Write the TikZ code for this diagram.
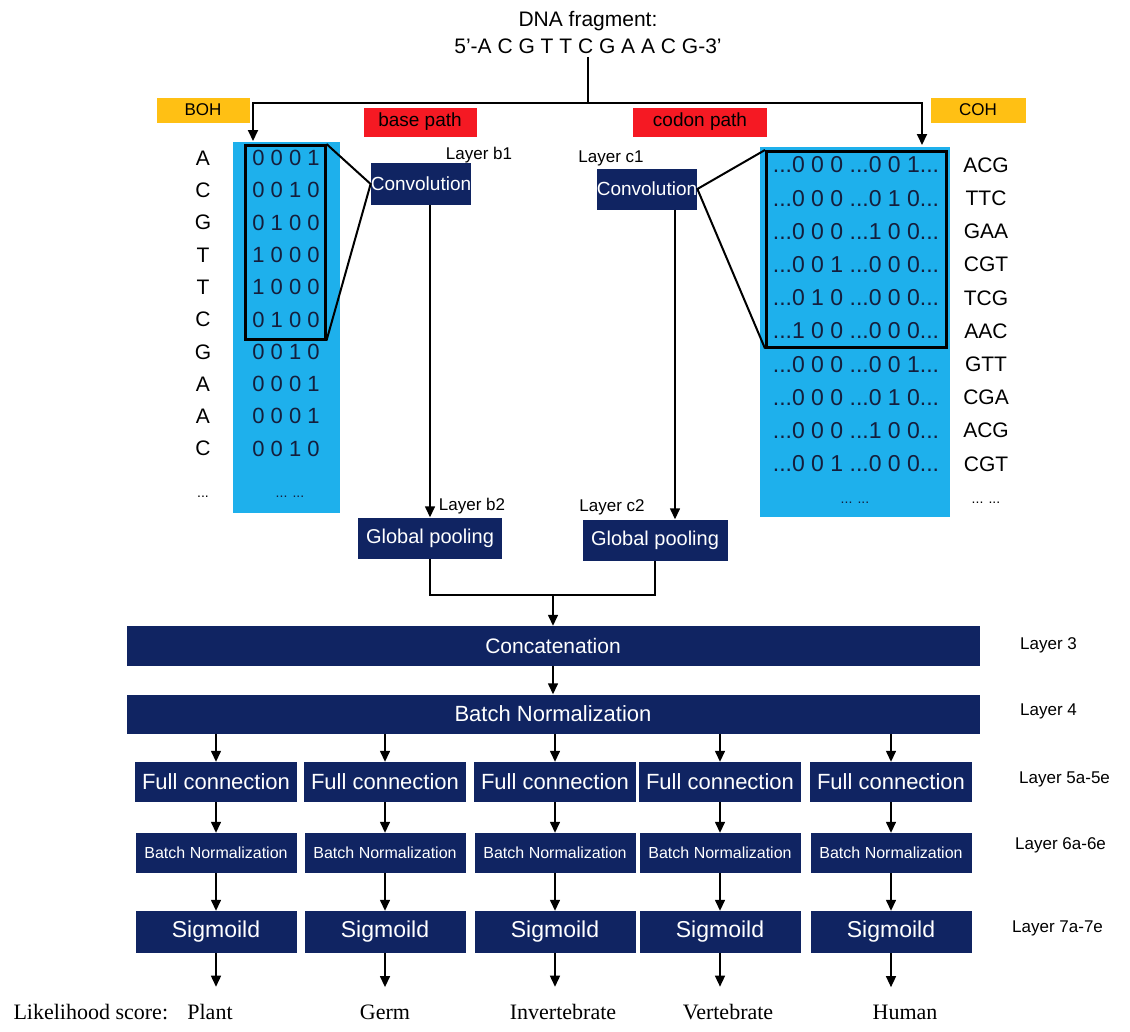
\documentclass[tikz,border=0pt]{standalone}
\usepackage{fontspec}
\setmainfont{Liberation Sans}
\newfontfamily\scorefont{Liberation Serif}
\usetikzlibrary{arrows.meta,positioning}
\definecolor{netnavy}{RGB}{16,36,98}
\definecolor{hotblue}{RGB}{30,176,236}
\definecolor{hotorange}{RGB}{255,192,20}
\definecolor{pathred}{RGB}{245,25,35}
\definecolor{bitink}{RGB}{20,30,60}
\newcommand{\fsz}[1]{\fontsize{#1}{#1}\selectfont}

\begin{document}
\begin{tikzpicture}[x=1pt,y=-1pt,
  layer/.style={fill=netnavy,text=white,inner sep=0pt},
  hot/.style={fill=hotblue,inner sep=0pt,anchor=north west},
  win/.style={draw,line width=2.5pt,inner sep=0pt,anchor=north west},
  tag/.style={inner sep=0pt,font=\fsz{17}},
  conn/.style={line width=2pt},
  arr/.style={-{Triangle[length=11pt,width=10pt]},line width=1.4pt}]
  \useasboundingbox (0,0) rectangle (1130,1031);

  \node[font=\fsz{21}] (title) at (588,21) {DNA fragment:};
  \node[font=\fsz{21}] (seq) at (588,46) {5'-A C G T T C G A A C G-3'};
  \coordinate (split) at (588,103);
  \coordinate (inb) at (253,141);
  \coordinate (inc) at (922,145);
  \draw[conn] (seq.south) -- (split);
  \draw[arr,line width=2pt] (split) -| (inb);
  \draw[arr,line width=2pt] (split) -| (inc);

  \node[tag,fill=hotorange,minimum width=93,minimum height=25] (boh) at (203,110) {BOH};
  \node[tag,fill=hotorange,minimum width=95,minimum height=25] (coh) at (978,110) {COH};
  \node[fill=pathred,minimum width=113,minimum height=29,inner sep=0pt,font=\fsz{19}] (basepath) at (420,122) {base path};
  \node[fill=pathred,minimum width=134,minimum height=29,inner sep=0pt,font=\fsz{19}] (codonpath) at (700,122) {codon path};

  \node[hot,minimum width=107,minimum height=371] (hotb) at (233,142) {};
  \node[hot,minimum width=190,minimum height=370] (hotc) at (760,147) {};
  \node[win,minimum width=80,minimum height=194] (winb) at (244,144) {};
  \node[win,minimum width=180,minimum height=196] (winc) at (765,150) {};

  \foreach \b/\v [count=\i from 0] in {A/0 0 0 1,C/0 0 1 0,G/0 1 0 0,T/1 0 0 0,T/1 0 0 0,
    C/0 1 0 0,G/0 0 1 0,A/0 0 0 1,A/0 0 0 1,C/0 0 1 0}{
    \node[font=\fsz{21}] (base\i) at (203,{158+32.3*\i}) {\b};
    \node[font=\fsz{22},text=bitink] (bits\i) at (286,{158+32.3*\i}) {\v};
  }
  \foreach \p/\q/\c [count=\i from 0] in {0 0 0/0 0 1/ACG,0 0 0/0 1 0/TTC,0 0 0/1 0 0/GAA,
    0 0 1/0 0 0/CGT,0 1 0/0 0 0/TCG,1 0 0/0 0 0/AAC,0 0 0/0 0 1/GTT,0 0 0/0 1 0/CGA,
    0 0 0/1 0 0/ACG,0 0 1/0 0 0/CGT}{
    \node[font=\fsz{23},text=bitink] (codebits\i) at (856,{165+33.2*\i}) {...\p{} ...\q...};
    \node[font=\fsz{21}] (codon\i) at (986,{165+33.2*\i}) {\c};
  }
  \node[font=\fsz{14}] (moreb) at (203,497) {...};
  \node[font=\fsz{14},text=bitink] (morebits) at (290,497) {... ...};
  \node[font=\fsz{14},text=bitink] (morecodebits) at (855,503) {... ...};
  \node[font=\fsz{14}] (morecodon) at (986,503) {... ...};

  \node[layer,minimum width=99,minimum height=42,font=\fsz{19}] (convb) at (421,184) {Convolution};
  \node[layer,minimum width=99,minimum height=41,font=\fsz{19}] (convc) at (647,189) {Convolution};
  \node[tag] (lb1) at (479,155) {Layer b1};
  \node[tag] (lc1) at (611,158) {Layer c1};
  \node[layer,minimum width=144,minimum height=41,font=\fsz{20}] (poolb) at (430,538) {Global pooling};
  \node[layer,minimum width=145,minimum height=41,font=\fsz{20}] (poolc) at (655,540) {Global pooling};
  \node[tag] (lb2) at (472,506) {Layer b2};
  \node[tag] (lc2) at (612,507) {Layer c2};

  \draw[conn] (winb.north east) -- (convb.west) -- (winb.south east);
  \draw[conn] (winc.north west) -- (convc.east) -- (winc.south west);
  \draw[arr] (poolb.north |- convb.south) -- (poolb.north);
  \draw[arr] ([xshift=28pt]convc.south) -- ([xshift=20pt]poolc.north);

  \node[layer,minimum width=853,minimum height=40,font=\fsz{21}] (concat) at (553,646) {Concatenation};
  \node[layer,minimum width=853,minimum height=39,font=\fsz{22}] (bnall) at (553,714) {Batch Normalization};
  \coordinate (join) at (553,595);
  \draw[conn] (poolb.south) |- (join) -| (poolc.south);
  \draw[arr] (join) -- (concat.north);
  \draw[arr] (concat) -- (bnall);

  \node[tag,anchor=west] (l3) at (1020,645) {Layer 3};
  \node[tag,anchor=west] (l4) at (1020,711) {Layer 4};
  \node[tag,anchor=west] (l5) at (1019,779) {Layer 5a-5e};
  \node[tag,anchor=west] (l6) at (1015,845) {Layer 6a-6e};
  \node[tag,anchor=west] (l7) at (1012,928) {Layer 7a-7e};

  \foreach \cx/\ox/\kind [count=\k] in {216/210/Plant,385/385/Germ,555/563/Invertebrate,
    720/728/Vertebrate,891/905/Human}{
    \node[layer,minimum width=162,minimum height=40,font=\fsz{22}] (fc\k) at (\cx,782) {Full connection};
    \node[layer,minimum width=161,minimum height=40,font=\fsz{16}] (bn\k) at (\cx,853) {Batch Normalization};
    \node[layer,minimum width=161,minimum height=42,font=\fsz{23}] (sig\k) at (\cx,932) {Sigmoild};
    \node[font=\scorefont\fsz{22}] (out\k) at (\ox,1012) {\kind};
    \draw[arr] (bnall.south -| fc\k.north) -- (fc\k.north);
    \draw[arr] (fc\k) -- (bn\k);
    \draw[arr] (bn\k) -- (sig\k);
    \draw[arr,shorten >=14pt] (sig\k.south) -- (sig\k.south |- out\k.north);
  }
  \node[font=\scorefont\fsz{22},anchor=west] (score) at (10,1012) {Likelihood score:};
\end{tikzpicture}
\end{document}
